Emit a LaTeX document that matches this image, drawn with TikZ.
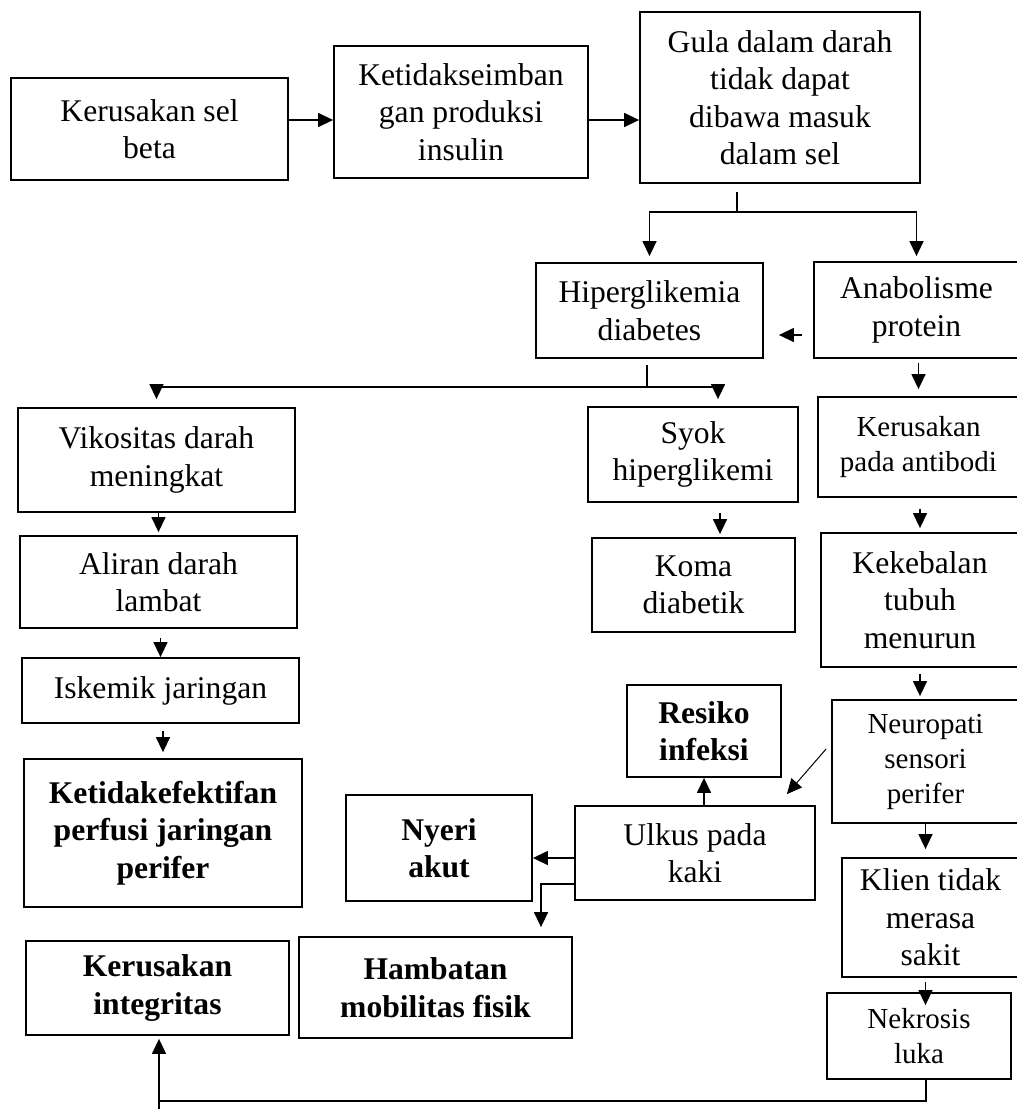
\documentclass[tikz,border=0pt]{standalone}
\usepackage{fontspec}
\setmainfont{Liberation Serif}
\usetikzlibrary{arrows.meta}
\begin{document}
\begin{tikzpicture}[x=1pt,y=-1pt,
  box/.style={draw, line width=1.8pt, inner sep=0pt, align=center, font=\fontsize{31.6}{37.5}\selectfont},
  sbox/.style={box, font=\fontsize{29}{35}\selectfont},
  bbox/.style={box, font=\fontsize{31.6}{37.5}\selectfont\bfseries},
  wh/.style n args={2}{minimum width=#1pt, minimum height=#2pt},
  arr/.style={line width=1.4pt, -{Triangle[length=15pt,width=14pt]}},
  ln/.style={line width=1.4pt}]
\useasboundingbox (0,0) rectangle (1017,1109);

% boxes
\node[box, wh={277}{102}] (beta) at (149.5,129) {Kerusakan sel\\beta};
\node[box, wh={254}{132}] (ketid) at (461,112) {Ketidakseimban\\gan produksi\\insulin};
\node[box, wh={280}{171}] (gula) at (780,97.5) {Gula dalam darah\\tidak dapat\\dibawa masuk\\dalam sel};
\node[box, wh={227}{95}] (hiper) at (649.5,310.5) {Hiperglikemia\\diabetes};
\node[box, wh={205}{96}] (anabol) at (916.5,310) {Anabolisme\\protein};
\node[box, wh={277}{104}] (vikos) at (156.5,460) {Vikositas darah\\meningkat};
\node[box, wh={210}{95}] (syok) at (693,454.5) {Syok\\hiperglikemi};
\node[sbox, wh={201}{100}] (antib) at (918.5,447) {Kerusakan\\pada antibodi};
\node[box, wh={277}{92}] (aliran) at (158.5,582) {Aliran darah\\lambat};
\node[box, wh={203}{94}] (koma) at (693.5,585) {Koma\\diabetik};
\node[box, wh={198}{134}] (kekeb) at (920,600) {Kekebalan\\tubuh\\menurun};
\node[box, wh={277}{65}] (iskem) at (160.5,690.5) {Iskemik jaringan};
\node[bbox, wh={154}{92}] (resiko) at (704,731) {Resiko\\infeksi};
\node[sbox, wh={187}{123}] (neuro) at (925.5,761.5) {Neuropati\\sensori\\perifer};
\node[bbox, wh={278}{148}] (ketef) at (163,833) {Ketidakefektifan\\perfusi jaringan\\perifer};
\node[bbox, wh={186}{106}] (nyeri) at (439,848) {Nyeri\\akut};
\node[box, wh={240}{94}] (ulkus) at (695,853) {Ulkus pada\\kaki};
\node[bbox, wh={273}{101}] (hamb) at (435.5,987.5) {Hambatan\\mobilitas fisik};
\node[bbox, wh={263}{94}] (kerint) at (157.5,988) {Kerusakan\\integritas};
\node[box, wh={177}{119}] (klien) at (930.5,917.5) {Klien tidak\\merasa\\sakit};
\node[sbox, wh={184}{86}] (nekro) at (919,1036) {Nekrosis\\luka};

% helper coordinates
\coordinate (r1) at (0,120);
\coordinate (g0) at (737,212);
\coordinate (r2) at (0,335);
\coordinate (h0) at (647,387);
\coordinate (s0) at (718,387);
\coordinate (s1) at (720,0);
\coordinate (y858) at (0,858);
\coordinate (hb) at (541,884);
\coordinate (bl) at (159,1101);
\coordinate (nx) at (926,0);

% connectors
\draw[arr] (beta.east |- r1) -- (ketid.west |- r1);
\draw[arr] (ketid.east |- r1) -- (gula.west |- r1);
\draw[ln, shorten <=8pt] (gula.south -| g0) -- (g0);
\draw[arr, shorten >=6pt] (g0) -| (hiper.north);
\draw[arr, shorten >=5pt] (g0) -| (anabol.north);
\draw[arr, shorten <=11pt, shorten >=15pt] (anabol.west |- r2) -- (hiper.east |- r2);
\draw[ln, shorten <=6pt] (hiper.south -| h0) -- (h0);
\draw[arr, shorten >=8pt] (h0) -| (vikos.north);
\draw[arr, shorten >=7pt] (h0) -- (s0) -- (s0 |- syok.north);
\draw[arr, shorten <=4pt, shorten >=7pt] (anabol.south -| antib.north) -- (antib.north);
\draw[arr, shorten >=3pt] (vikos.south -| aliran.north) -- (aliran.north);
\draw[arr, shorten <=10pt, shorten >=3pt] (syok.south -| s1) -- (koma.north -| s1);
\draw[arr, shorten <=11pt, shorten >=4pt] (antib.south -| kekeb.north) -- (kekeb.north);
\draw[arr, shorten <=9pt] (aliran.south -| iskem.north) -- (iskem.north);
\draw[arr, shorten <=6pt, shorten >=3pt] (kekeb.south) -- (kekeb.south |- neuro.north);
\draw[arr, shorten <=7pt, shorten >=6pt] (iskem.south -| ketef.north) -- (ketef.north);
\draw[arr, shorten >=8pt] (neuro.south) -- (neuro.south |- klien.north);
\draw[arr, shorten <=4pt, shorten >=-13pt] (klien.south -| neuro.south) -- (nekro.north -| neuro.south);
\draw[arr, line width=1pt] ([shift={(-5,-12.5)}]neuro.west) -- ([shift={(-29,-11)}]ulkus.north east);
\draw[arr] (ulkus.north -| resiko.south) -- (resiko.south);
\draw[arr] (ulkus.west |- y858) -- (nyeri.east |- y858);
\draw[arr, shorten >=9pt] (ulkus.west |- hb) -- (hb) -- (hb |- hamb.north);
\draw[ln, line width=2pt] (nekro.south -| nx) -- (nx |- bl) -- (bl);
\draw[arr, shorten >=3pt] ([yshift=-8pt]bl) -- (bl |- kerint.south);
\end{tikzpicture}
\end{document}
